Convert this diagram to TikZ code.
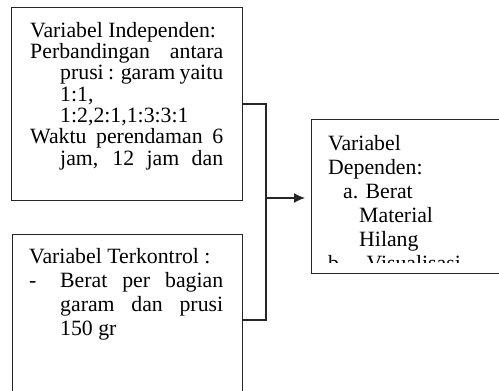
\documentclass[tikz,border=0pt]{standalone}
\usepackage{fontspec}
\setmainfont{Liberation Serif}
\usetikzlibrary{positioning, calc, arrows.meta}

\begin{document}
\begin{tikzpicture}[x=1pt,y=1pt,
	box/.style={draw=black!85, line width=1.3pt, rectangle, anchor=north west, inner sep=0pt},
	txt/.style={anchor=north west, inner sep=0pt, align=left, font=\fontsize{21.8}{24}\selectfont},
	link/.style={draw=black!85, line width=1.3pt}]
	
	\useasboundingbox (0,0) rectangle (499,391);
	\clip (0,0) rectangle (499,391);
	
	%Boxes
	\node[box, minimum width=231pt, minimum height=193pt] (indep) at (11,384) {};
	\node[box, minimum width=230pt, minimum height=175pt] (kontrol) at (12,157) {};
	\node[box, minimum width=200pt, minimum height=154pt] (dep) at (311,272) {};
	
	%Texts
	\node[txt, font=\fontsize{21.8}{21.3}\selectfont] (indeptxt) at (30,369) {Variabel Independen:\\
		\makebox[193pt][s]{Perbandingan antara}\\
		\hspace*{30pt}\makebox[163pt][s]{prusi : garam yaitu}\\
		\hspace*{30pt}1:1,\\
		\hspace*{30pt}1:2,2:1,1:3:3:1\\
		\makebox[193pt][s]{Waktu perendaman 6}\\
		\hspace*{30pt}\makebox[163pt][s]{jam, 12 jam dan}};
	\node[txt] (kontroltxt) at (29,143) {Variabel Terkontrol :\\
		\makebox[31pt][l]{-}\makebox[163pt][s]{Berat per bagian}\\
		\hspace*{31pt}\makebox[163pt][s]{garam dan prusi}\\
		\hspace*{31pt}150 gr};
	\begin{scope}
		\clip (311,128) rectangle (511,272);
		\node[txt] (deptxt) at (328,256) {Variabel\\
			Dependen:\\
			\hspace*{15pt}a. Berat\\
			\hspace*{31pt}Material\\
			\hspace*{31pt}Hilang\\
			b.\hspace*{22pt}Visualisasi};
	\end{scope}
	
	%Connectors
	\coordinate (split) at (266,193);
	\path[link] (indep.east) -| (split) |- ([yshift=-86pt]kontrol.north east);
	\path[link, -{Latex[length=11pt,width=10pt]}, shorten >=6pt] (split) -- (split -| dep.west);
	
\end{tikzpicture}
\end{document}
